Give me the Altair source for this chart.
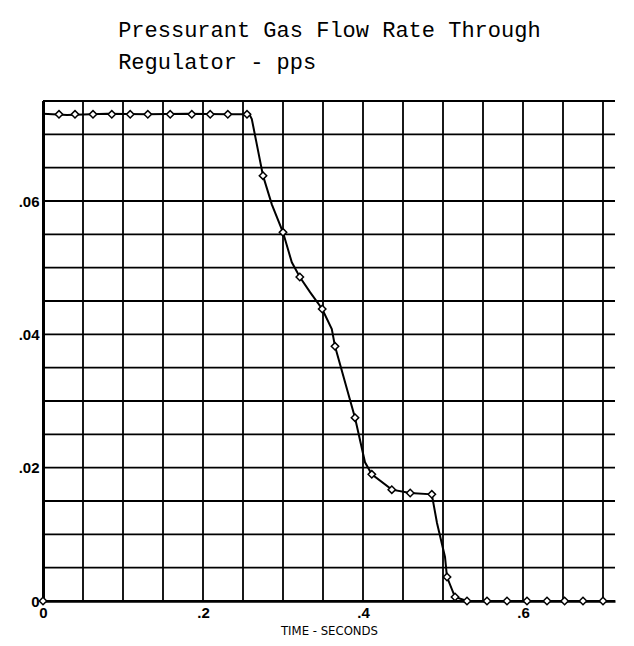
import altair as alt
import pandas as pd

title_lines = ["Pressurant Gas Flow Rate Through", "Regulator - pps"]
x_title = "TIME - SECONDS"

# flow-rate trace (time in s, flow in pps)
line_t = [0.0, 0.03, 0.08, 0.13, 0.18, 0.23, 0.258, 0.261, 0.275, 0.286, 0.300, 0.311, 0.321,
          0.334, 0.349, 0.361, 0.365, 0.390, 0.4025, 0.411, 0.436, 0.459, 0.486, 0.4925,
          0.5025, 0.505, 0.515, 0.530, 0.715]
line_v = [0.0731, 0.0729, 0.0731, 0.0730, 0.0731, 0.0730, 0.0730, 0.0723, 0.0638, 0.0595,
          0.0553, 0.0508, 0.0486, 0.0463, 0.0438, 0.0408, 0.0382, 0.0275, 0.0208, 0.0190,
          0.0167, 0.0162, 0.0160, 0.0117, 0.0066, 0.0036, 0.0006, 0.0, 0.0]

# plotted symbols
marker_t = [0.0, 0.02, 0.04, 0.0625, 0.086, 0.109, 0.131, 0.159, 0.186, 0.209, 0.231, 0.255,
            0.275, 0.300, 0.321, 0.349, 0.365, 0.390, 0.411, 0.436, 0.459, 0.486, 0.505,
            0.515, 0.530, 0.555, 0.580, 0.605, 0.630, 0.652, 0.675, 0.700]
marker_v = [0.0, 0.0730, 0.0730, 0.0730, 0.0730, 0.0730, 0.0730, 0.0730, 0.0730, 0.0730,
            0.0730, 0.0730, 0.0638, 0.0553, 0.0486, 0.0438, 0.0382, 0.0275, 0.0190, 0.0167,
            0.0162, 0.0160, 0.0036, 0.0006, 0.0, 0.0, 0.0, 0.0, 0.0, 0.0, 0.0, 0.0]

x_ticks = [0.0, 0.05, 0.1, 0.15, 0.2, 0.25, 0.3, 0.35, 0.4, 0.45, 0.5, 0.55, 0.6, 0.65, 0.7]
y_ticks = [0.0, 0.005, 0.01, 0.015, 0.02, 0.025, 0.03, 0.035, 0.04, 0.045, 0.05, 0.055,
           0.06, 0.065, 0.07, 0.075]

line_df = pd.DataFrame({"t": line_t, "v": line_v})
mark_df = pd.DataFrame({"t": marker_t, "v": marker_v})
xg_df = pd.DataFrame({"t": x_ticks})
yg_df = pd.DataFrame({"v": y_ticks})

x_scale = alt.Scale(domain=[0, 0.715], nice=False, zero=False)
y_scale = alt.Scale(domain=[0, 0.075], nice=False, zero=True)

x_enc = alt.X(
    "t:Q",
    scale=x_scale,
    axis=alt.Axis(
        values=x_ticks, grid=False, ticks=False, title=x_title,
        labelExpr="round(datum.value*100) % 20 == 0 ? (datum.value == 0 ? '0' : replace(format(datum.value, '.1f'), '0.', '.')) : ''",
        labelFont="Liberation Sans", labelFontSize=15, labelFontWeight="bold", labelColor="black",
        labelPadding=4, labelFlush=False, labelOverlap=False,
        titleFont="DejaVu Sans Condensed", titleFontSize=13, titleFontWeight="normal",
        titleColor="black", titlePadding=4,
        domainColor="black", domainWidth=2.5,
    ),
)
y_enc = alt.Y(
    "v:Q",
    scale=y_scale,
    axis=alt.Axis(
        values=y_ticks, grid=False, ticks=False, title=None,
        labelExpr="round(datum.value*1000) % 20 == 0 ? (datum.value == 0 ? '0' : replace(format(datum.value, '.2f'), '0.', '.')) : ''",
        labelFont="Liberation Sans", labelFontSize=15, labelFontWeight="bold", labelColor="black",
        labelPadding=4, labelOverlap=False,
        domainColor="black", domainWidth=3,
    ),
)

xgrid = alt.Chart(xg_df).mark_rule(color="black", strokeWidth=1.8).encode(
    x=alt.X("t:Q", scale=x_scale))
ygrid = alt.Chart(yg_df).mark_rule(color="black", strokeWidth=1.8).encode(
    y=alt.Y("v:Q", scale=y_scale))

line = alt.Chart(line_df).mark_line(color="black", strokeWidth=2).encode(x=x_enc, y=y_enc)
pts = alt.Chart(mark_df).mark_point(
    shape="diamond", filled=True, fill="white", stroke="black", strokeWidth=1.5, size=55, opacity=1
).encode(x="t:Q", y="v:Q")

chart = (
    alt.layer(line, xgrid, ygrid, pts)
    .properties(
        width=572, height=500,
        autosize=alt.AutoSizeParams(type="none"),
        padding={"left": 35, "top": 93, "right": 10, "bottom": 40},
        title=alt.Title(
            text=title_lines, anchor="start", font="Liberation Mono", fontSize=22,
            fontWeight="normal", color="black", dx=100, offset=26, lineHeight=32,
        ),
    )
    .configure_view(stroke=None)
)

chart.save("out.html", embed_options={"renderer": "svg", "actions": False})
